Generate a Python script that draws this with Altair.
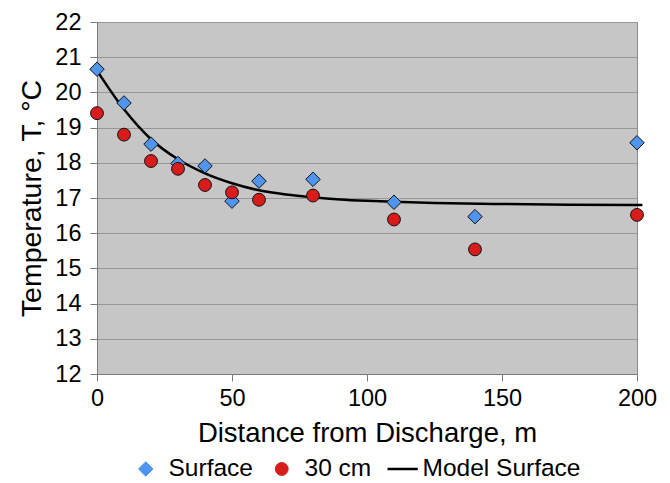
import altair as alt
import pandas as pd

# ---- data ----
distance = [0, 10, 20, 30, 40, 50, 60, 80, 110, 140, 200]
surface = [20.66, 19.70, 18.53, 17.98, 17.91, 16.91, 17.48, 17.53, 16.88, 16.47, 18.57]
cm30 = [19.41, 18.80, 18.05, 17.83, 17.37, 17.16, 16.95, 17.07, 16.39, 15.54, 16.52]

model_x = [0, 10, 20, 30, 40, 50, 60, 70, 80, 90, 100, 110, 125, 150, 175, 200, 202]
model_y = [20.62, 19.52, 18.67, 18.10, 17.70, 17.42, 17.22, 17.10, 17.02, 16.96, 16.92, 16.89,
           16.86, 16.83, 16.81, 16.80, 16.80]

series_names = ["Surface", "30 cm", "Model Surface"]
y_ticks = list(range(12, 23))
x_ticks = [0, 50, 100, 150, 200]

pts = pd.DataFrame({
    "Distance": distance * 2,
    "Temp": surface + cm30,
    "Series": ["Surface"] * len(distance) + ["30 cm"] * len(distance),
    "order": [0] * len(distance) + [1] * len(distance),
})
model = pd.DataFrame({"Distance": model_x, "Temp": model_y, "Series": ["Model Surface"] * len(model_x)})

FONT = "Liberation Sans"

legend = alt.Legend(
    title=None, orient="none", direction="horizontal", columns=3,
    legendX=36.5, legendY=432,
)

color = alt.Color("Series:N",
                  scale=alt.Scale(domain=series_names, range=["#4f95ef", "#d81c1c", "#000000"]),
                  legend=legend)
shape = alt.Shape("Series:N",
                  scale=alt.Scale(domain=series_names, range=["diamond", "circle", "M-2.55,0L2.55,0"]),
                  legend=legend)

x = alt.X("Distance:Q", scale=alt.Scale(domain=[0, 200], nice=False),
          axis=alt.Axis(values=x_ticks, title="Distance from Discharge, m", grid=False))
y = alt.Y("Temp:Q", scale=alt.Scale(domain=[12, 22], nice=False, zero=False),
          axis=alt.Axis(values=y_ticks, title="Temperature, T, °C", grid=True))

line = alt.Chart(model).mark_line(strokeWidth=2.5, interpolate="monotone", clip=False).encode(
    x=x, y=y, color=color)

points = alt.Chart(pts).mark_point(filled=True, opacity=1, stroke="#111111", strokeWidth=1,
                                   size=alt.ExprRef("datum.Series === 'Surface' ? 210 : 165")).encode(
    x=x, y=y, color=color, shape=shape, order=alt.Order("order:Q"))

chart = alt.layer(line, points).properties(
    width=540, height=352,
    background="white",
    padding={"left": 89, "top": 14, "right": 25, "bottom": 108},
    autosize=alt.AutoSizeParams(type="none"),
).configure_view(
    fill="#c6c6c6", stroke="#8a8a8a", strokeWidth=1
).configure_axis(
    labelFont=FONT, titleFont=FONT, labelFontSize=23.5,
    labelColor="#000", titleColor="#000", titleFontWeight="normal",
    domainColor="#7a7a7a", tickColor="#7a7a7a", tickSize=7, gridColor="#969696", gridWidth=1,
    labelFlush=False,
).configure_axisY(
    labelPadding=9, titlePadding=8, titleFontSize=28.5,
).configure_axisX(
    labelPadding=5, titlePadding=10, titleFontSize=27.5,
).configure_legend(
    labelFont=FONT, labelFontSize=24.5, labelColor="#000", labelOffset=10.5, symbolOffset=0,
    columnPadding=16, padding=0, clipHeight=30, labelLimit=400,
    symbolSize=alt.ExprRef("datum.value === 'Surface' ? 210 : (datum.value === '30 cm' ? 165 : 200)"),
    symbolStrokeColor="#111111",
    symbolStrokeWidth=alt.ExprRef("datum.value === 'Model Surface' ? 2.5 : 1"),
)

chart.save("out.html", embed_options={"renderer": "svg", "actions": False})
